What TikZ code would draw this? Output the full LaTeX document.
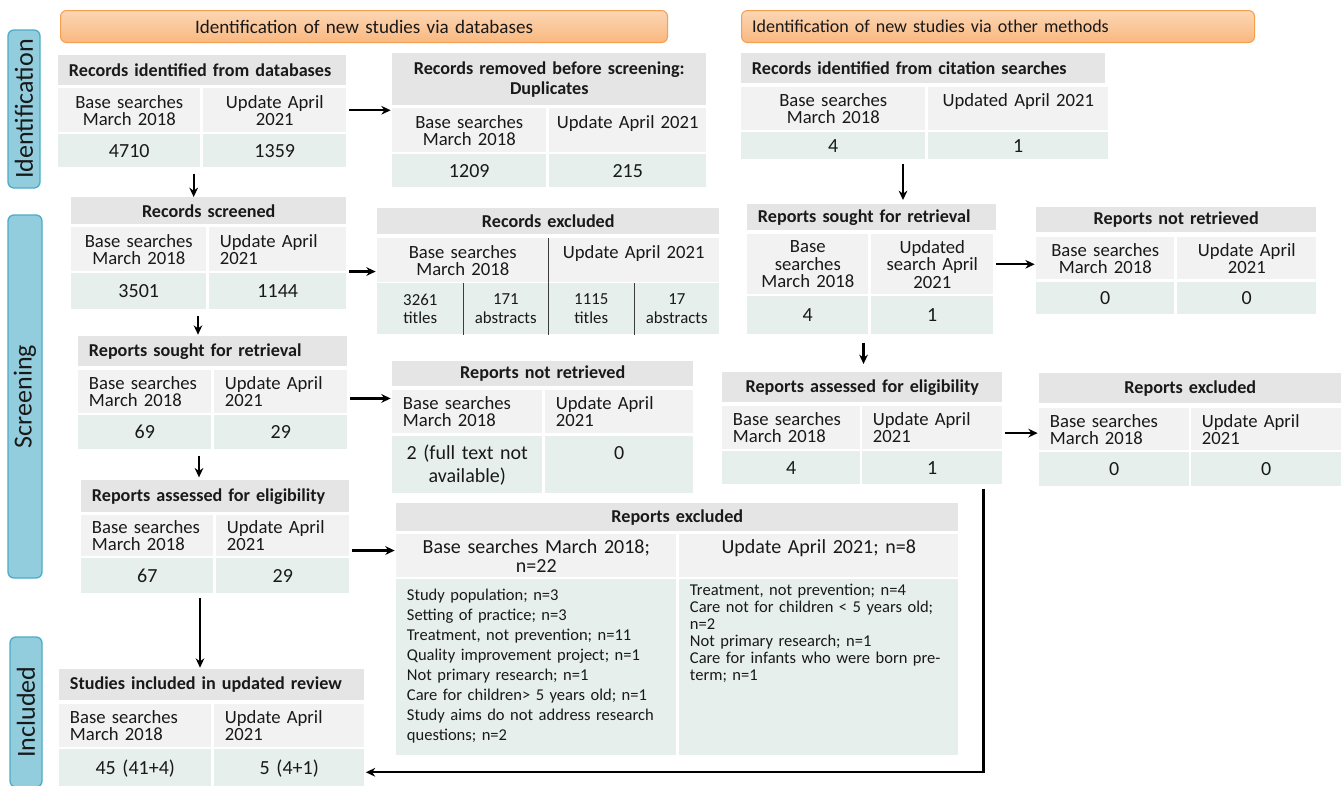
\documentclass[tikz,border=0pt]{standalone}
\usepackage{fontspec}
\setmainfont{Carlito}
\usetikzlibrary{arrows.meta,positioning}
\definecolor{ttlgray}{RGB}{229,229,229}
\definecolor{subgray}{RGB}{242,242,242}
\definecolor{numgreen}{RGB}{231,239,236}
\definecolor{hdtop}{RGB}{252,214,180}
\definecolor{hdbot}{RGB}{249,184,128}
\definecolor{hdline}{RGB}{245,160,80}
\definecolor{sideblue}{RGB}{146,205,221}
\definecolor{sideline}{RGB}{75,172,198}
\definecolor{sepgray}{RGB}{60,60,60}
\definecolor{ink}{RGB}{25,25,25}
\newcommand\fTitle{\fontsize{13.6}{15}\selectfont\bfseries}
\newcommand\fBody{\fontsize{14}{13}\selectfont}
\newcommand\fNum{\fontsize{15}{17.25}\selectfont}
\newcommand\fBig{\fontsize{15}{14}\selectfont}
\newcommand\fSmall{\fontsize{12.6}{14}\selectfont}
\newcommand\fList{\fontsize{12.4}{15}\selectfont}
\newcommand\fListB{\fontsize{12.4}{12.75}\selectfont}
\newcommand\fHead{\fontsize{14.3}{15}\selectfont}
\newcommand\fHeadB{\fontsize{13.5}{15}\selectfont}
\newcommand\fSide{\fontsize{19.5}{20}\selectfont}

\begin{document}
\begin{tikzpicture}[x=0.75pt, y=-0.75pt, >={Stealth[length=7pt,width=6.5pt]},
    cell/.style={anchor=north west, inner xsep=8pt, inner ysep=0pt, align=center, font=\fBody, text=ink},
    wh/.style 2 args={minimum width={#1*0.75pt}, minimum height={#2*0.75pt},
      /utils/exec={\pgfmathsetlengthmacro\cellw{#1*0.75pt-16pt}}, text width=\cellw},
    whn/.style 2 args={minimum width={#1*0.75pt}, minimum height={#2*0.75pt}, inner xsep=2pt,
      /utils/exec={\pgfmathsetlengthmacro\cellw{#1*0.75pt-4pt}}, text width=\cellw},
    ttl/.style={cell, fill=ttlgray, font=\fTitle},
    sub/.style={cell, fill=subgray},
    num/.style={cell, fill=numgreen, font=\fNum},
    lft/.style={align=left},
    arr/.style={->, line width=1.6pt, shorten <=2pt, shorten >=1pt},
    divline/.style={draw=sepgray, line width=1pt},
    sidebox/.style={rotate=90, fill=sideblue, draw=sideline, line width=1pt, rounded corners=4.5pt, font=\fSide, text=ink, inner sep=0pt},
    hdr/.style={cell, draw=hdline, line width=0.8pt, rounded corners=4.5pt, top color=hdtop, bottom color=hdbot, font=\fHead}]
    \useasboundingbox (0,0) rectangle (1341,785);

    \node[hdr, wh={607}{32}] (hdDb) at (60,10) {Identification of new studies via databases};
    \node[hdr, lft, font=\fHeadB, wh={513}{32}] (hdOther) at (741,10) {Identification of new studies via other methods};

    \node[sidebox, minimum width=158*0.75pt, minimum height=32*0.75pt] (sideId) at (24,109) {Identification};
    \node[sidebox, minimum width=363*0.75pt, minimum height=34*0.75pt] (sideScr) at (25,396.5) {Screening};
    \node[sidebox, minimum width=150*0.75pt, minimum height=32*0.75pt] (sideInc) at (26,712) {Included};

    \node[ttl, lft, wh={288}{30}] (ident) at (58,55) {Records identified from databases};
    \node[sub, wh={142}{44}] (identB) at (58,88) {Base searches\\March 2018};
    \node[sub, wh={143}{44}] (identU) at (203,88) {Update April\\2021};
    \node[num, wh={142}{33}] (identBn) at (58,134) {4710};
    \node[num, wh={143}{33}] (identUn) at (203,134) {1359};

    \node[ttl, wh={314}{52}] (dup) at (392,53) {Records removed before screening:\\Duplicates};
    \node[sub, wh={154}{44}] (dupB) at (392,108) {Base searches\\March 2018};
    \node[sub, whn={157}{44}] (dupU) at (549,108) {Update April 2021\\\mbox{}};
    \node[num, wh={154}{33}] (dupBn) at (392,154) {1209};
    \node[num, wh={157}{33}] (dupUn) at (549,154) {215};

    \node[ttl, wh={275}{27}] (screen) at (71,197) {Records screened};
    \node[sub, wh={135}{44}] (screenB) at (71,227) {Base searches\\March 2018};
    \node[sub, lft, wh={137}{44}] (screenU) at (209,227) {Update April\\2021};
    \node[num, wh={135}{36}] (screenBn) at (71,273) {3501};
    \node[num, wh={137}{36}] (screenUn) at (209,273) {1144};

    \node[ttl, wh={342}{26}] (excl) at (377,208) {Records excluded};
    \node[sub, wh={171}{44}] (exclB) at (377,238) {Base searches\\March 2018};
    \node[sub, whn={171}{44}] (exclU) at (548,238) {Update April 2021\\\mbox{}};
    \node[num, font=\fSmall, wh={86}{51}] (exclBt) at (377,283) {3261\\titles};
    \node[num, font=\fSmall, wh={85}{51}] (exclBa) at (463,283) {171\\abstracts};
    \node[num, font=\fSmall, wh={86}{51}] (exclUt) at (548,283) {1115\\titles};
    \node[num, font=\fSmall, wh={85}{51}] (exclUa) at (634,283) {17\\abstracts};
    \draw[divline] (exclB.north east) -- (exclBa.south east);
    \draw[divline] (exclBt.north east) -- (exclBt.south east);
    \draw[divline] (exclUt.north east) -- (exclUt.south east);

    \node[ttl, lft, wh={269}{30}] (soughtL) at (78,336) {Reports sought for retrieval};
    \node[sub, lft, wh={133}{43}] (soughtLB) at (78,370) {Base searches\\March 2018};
    \node[sub, lft, wh={133}{43}] (soughtLU) at (214,370) {Update April\\2021};
    \node[num, wh={133}{34}] (soughtLBn) at (78,415) {69};
    \node[num, wh={133}{34}] (soughtLUn) at (214,415) {29};

    \node[ttl, wh={301}{25}] (notRet) at (392,361) {Reports not retrieved};
    \node[sub, lft, wh={150}{43}] (notRetB) at (392,390) {Base searches\\March 2018};
    \node[sub, lft, wh={148}{43}] (notRetU) at (545,390) {Update April\\2021};
    \node[num, wh={150}{57}] (notRetBn) at (392,436) {2 (full text not\\available)};
    \node[num, wh={148}{57}] (notRetUn) at (545,436) {0\\\mbox{}};

    \node[ttl, lft, wh={268}{32}] (assessL) at (81,480) {Reports assessed for eligibility};
    \node[sub, lft, wh={132}{41}] (assessLB) at (81,515) {Base searches\\March 2018};
    \node[sub, lft, wh={133}{41}] (assessLU) at (216,515) {Update April\\2021};
    \node[num, wh={132}{35}] (assessLBn) at (81,558) {67};
    \node[num, wh={133}{35}] (assessLUn) at (216,558) {29};

    \node[ttl, wh={562}{28}] (exclL) at (396,503) {Reports excluded};
    \node[sub, font=\fBig, whn={280}{43}] (exclLB) at (396,534) {Base searches March 2018;\\n=22};
    \node[sub, font=\fBig, whn={279}{43}] (exclLU) at (679,534) {Update April 2021; n=8\\\mbox{}};
    \node[num, lft, font=\fList, wh={280}{176}, inner ysep=7pt] (exclLBn) at (396,579) {\parbox[c][118pt][t]{\linewidth}{Study population; n=3\\Setting of practice; n=3\\Treatment, not prevention; n=11\\Quality improvement project; n=1\\Not primary research; n=1\\Care for children> 5 years old; n=1\\Study aims do not address research\\questions; n=2}};
    \node[num, lft, font=\fListB, wh={279}{176}, inner ysep=3.75pt] (exclLUn) at (679,579) {\parbox[c][124.5pt][t]{\linewidth}{Treatment, not prevention; n=4\\Care not for children < 5 years old;\\n=2\\Not primary research; n=1\\Care for infants who were born pre-\\term; n=1}};

    \node[ttl, lft, wh={305}{31}] (incl) at (59,669) {Studies included in updated review};
    \node[sub, lft, wh={152}{43}] (inclB) at (59,704) {Base searches\\March 2018};
    \node[sub, lft, wh={150}{43}] (inclU) at (214,704) {Update April\\2021};
    \node[num, wh={152}{38}] (inclBn) at (59,749) {45 (41+4)};
    \node[num, wh={150}{38}] (inclUn) at (214,749) {5 (4+1)};

    \node[ttl, lft, wh={364}{30}] (cite) at (741,53) {Records identified from citation searches};
    \node[sub, wh={184}{43}] (citeB) at (741,87) {Base searches\\March 2018};
    \node[sub, wh={180}{43}] (citeU) at (928,87) {Updated April 2021\\\mbox{}};
    \node[num, wh={184}{27}] (citeBn) at (741,132) {4};
    \node[num, wh={180}{27}] (citeUn) at (928,132) {1};

    \node[ttl, lft, wh={249}{26}] (soughtR) at (747,204) {Reports sought for retrieval};
    \node[sub, wh={121}{60}] (soughtRB) at (747,234) {Base\\searches\\March 2018};
    \node[sub, wh={122}{60}] (soughtRU) at (871,234) {Updated\\search April\\2021};
    \node[num, wh={121}{38}] (soughtRBn) at (747,296) {4};
    \node[num, wh={122}{38}] (soughtRUn) at (871,296) {1};

    \node[ttl, wh={280}{25}] (notRetR) at (1036,207) {Reports not retrieved};
    \node[sub, wh={138}{42}] (notRetRB) at (1036,237) {Base searches\\March 2018};
    \node[sub, wh={139}{42}] (notRetRU) at (1177,237) {Update April\\2021};
    \node[num, wh={138}{32}] (notRetRBn) at (1036,282) {0};
    \node[num, wh={139}{32}] (notRetRUn) at (1177,282) {0};

    \node[ttl, wh={280}{30}] (assessR) at (722,372) {Reports assessed for eligibility};
    \node[sub, lft, wh={138}{43}] (assessRB) at (722,406) {Base searches\\March 2018};
    \node[sub, lft, wh={140}{43}] (assessRU) at (862,406) {Update April\\2021};
    \node[num, wh={138}{33}] (assessRBn) at (722,451) {4};
    \node[num, wh={140}{33}] (assessRUn) at (862,451) {1};

    \node[ttl, wh={302}{30}] (exclR) at (1039,373) {Reports excluded};
    \node[sub, lft, wh={150}{42}] (exclRB) at (1039,408) {Base searches\\March 2018};
    \node[sub, lft, wh={150}{42}] (exclRU) at (1191,408) {Update April\\2021};
    \node[num, wh={150}{34}] (exclRBn) at (1039,452) {0};
    \node[num, wh={150}{34}] (exclRUn) at (1191,452) {0};

    \coordinate (dn1) at ([xshift=-7pt]identUn.south west);
    \coordinate (dn2) at ([xshift=-8.25pt]screenUn.south west);
    \coordinate (dn3) at ([xshift=-11.25pt]soughtLUn.south west);
    \coordinate (dn4) at ([xshift=-12pt]assessLUn.south west);
    \coordinate (dn5) at ([xshift=-18.75pt]citeUn.south west);
    \coordinate (dn6) at ([xshift=-3.75pt]soughtRBn.south east);
    \coordinate (dn7) at ([xshift=-14.25pt]assessRUn.south east);
    \coordinate (rt3) at ([yshift=-5pt]soughtLU.east);
    \coordinate (rt4) at ([yshift=4.5pt]assessLU.south east);
    \coordinate (rt6) at ([yshift=-4pt]assessRU.east);

    \draw[arr] (identU.east) -- (identU.east -| dup.west);
    \draw[arr, shorten <=4.5pt, shorten >=0pt] (dn1) -- (dn1 |- screen.north);
    \draw[arr] (screenU.south east) -- (screenU.south east -| excl.west);
    \draw[arr, shorten <=4.5pt] (dn2) -- (dn2 |- soughtL.north);
    \draw[arr] (rt3) -- (rt3 -| notRetB.west);
    \draw[arr, shorten <=4.5pt, shorten >=2pt] (dn3) -- (dn3 |- assessL.north);
    \draw[arr] (rt4) -- (rt4 -| exclLB.west);
    \draw[arr, shorten <=3pt] (dn4) -- (dn4 |- incl.north);
    \draw[arr, shorten <=3pt, shorten >=3pt] (dn5) -- (dn5 |- soughtR.north);
    \draw[arr] (soughtRU.east) -- (soughtRU.east -| notRetRB.west);
    \draw[arr, shorten <=6pt, shorten >=6pt] (dn6) -- (dn6 |- assessR.north);
    \draw[arr] (rt6) -- (rt6 -| exclRB.west);
    \draw[arr, shorten <=3pt] (dn7) |- ([yshift=-3pt]inclUn.east);
\end{tikzpicture}
\end{document}
